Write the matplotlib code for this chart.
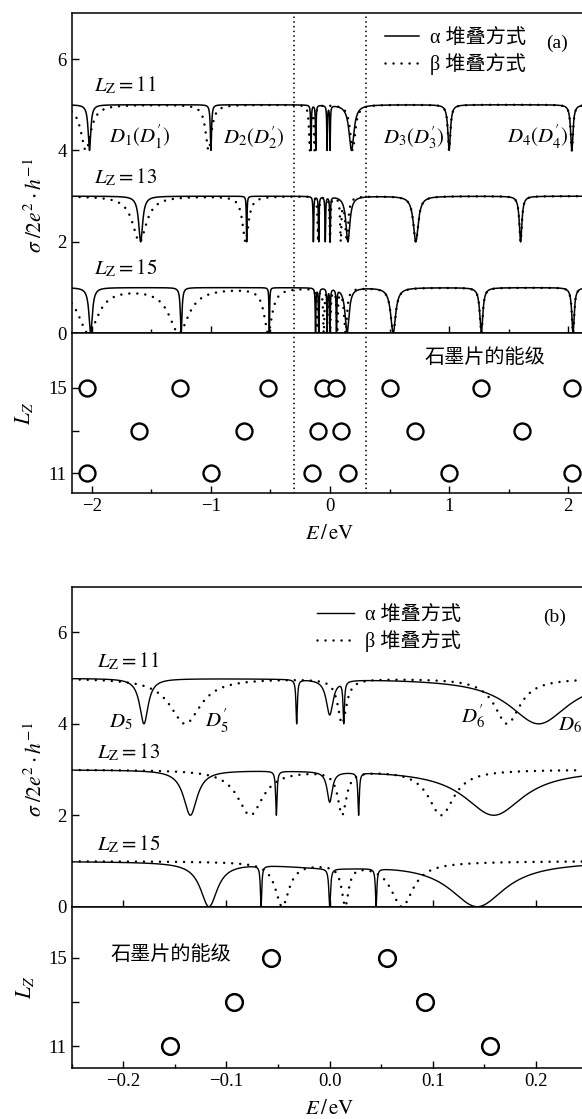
import numpy as np
import matplotlib
matplotlib.use('Agg')
import matplotlib.pyplot as plt
from matplotlib.ticker import MultipleLocator

plt.rcParams['font.family'] = ['Liberation Serif', 'Noto Sans CJK SC']
plt.rcParams['mathtext.fontset'] = 'stix'
plt.rcParams['axes.linewidth'] = 1.1

# ---------------- panel (a): dip centres (eV) and half widths
A11_ALPHA_POS = [-2.02, -1.00, -0.16, -0.12, -0.025, 0.0, 0.18, 1.00, 2.03]
A11_ALPHA_WID = [0.013, 0.006, 0.003, 0.003, 0.003, 0.003, 0.025, 0.013, 0.012]
A11_BETA_POS = [-2.05, -1.02, -0.17, -0.13, 0.19, 1.00, 2.03]
A11_BETA_WID = [0.05, 0.03, 0.008, 0.006, 0.025, 0.013, 0.012]

A13_ALPHA_POS = [-1.59, -0.70, -0.14, -0.095, -0.04, 0.0, 0.15, 0.72, 1.60]
A13_ALPHA_WID = [0.02, 0.003, 0.003, 0.003, 0.003, 0.003, 0.02, 0.025, 0.013]
A13_BETA_POS = [-1.60, -0.71, -0.10, 0.0, 0.09, 0.14, 0.72, 1.60]
A13_BETA_WID = [0.07, 0.03, 0.006, 0.005, 0.006, 0.015, 0.025, 0.013]

A15_ALPHA_POS = [-2.01, -1.25, -0.51, -0.122, -0.095, -0.024, 0.0, 0.054, 0.143, 0.53, 1.27, 2.04]
A15_ALPHA_WID = [0.017, 0.008, 0.003, 0.003, 0.003, 0.003, 0.003, 0.003, 0.02, 0.025, 0.015, 0.012]
A15_BETA_POS = [-2.03, -1.27, -0.52, -0.108, -0.053, 0.0, 0.06, 0.13, 0.53, 1.27, 2.04]
A15_BETA_WID = [0.1, 0.1, 0.04, 0.006, 0.006, 0.006, 0.006, 0.015, 0.025, 0.015, 0.012]

LEVELS_A_11 = [-2.04, -1.00, -0.15, 0.15, 1.00, 2.03]
LEVELS_A_13 = [-1.60, -0.72, -0.10, 0.09, 0.71, 1.61]
LEVELS_A_15 = [-2.04, -1.26, -0.52, -0.06, 0.05, 0.50, 1.27, 2.03]

# ---------------- panel (b): centres, half widths, depths
B11_ALPHA_POS = [-0.180, -0.032, 0.0, 0.0136, 0.2025]
B11_ALPHA_WID = [0.005, 0.0008, 0.004, 0.0008, 0.035]
B11_ALPHA_DEP = [1, 1, 0.8, 1, 1]
B11_BETA_POS = [-0.140, 0.012, 0.172]
B11_BETA_WID = [0.018, 0.005, 0.015]
B11_BETA_DEP = [1, 1, 1]

B13_ALPHA_POS = [-0.135, -0.0517, 0.0, 0.028, 0.159]
B13_ALPHA_WID = [0.008, 0.0008, 0.003, 0.0008, 0.035]
B13_ALPHA_DEP = [1, 1, 0.7, 1, 1]
B13_BETA_POS = [-0.077, 0.012, 0.108]
B13_BETA_WID = [0.015, 0.005, 0.015]
B13_BETA_DEP = [1, 1, 1]

B15_ALPHA_POS = [-0.117, -0.0665, 0.0, 0.045, 0.143, 0.0]
B15_ALPHA_WID = [0.01, 0.0008, 0.001, 0.0008, 0.033, 0.06]
B15_ALPHA_DEP = [1, 1, 1, 1, 1, 0.12]
B15_BETA_POS = [-0.046, 0.015, 0.070, 0.02]
B15_BETA_WID = [0.008, 0.004, 0.013, 0.08]
B15_BETA_DEP = [1, 1, 1, 0.05]

LEVELS_B_11 = [-0.155, 0.155]
LEVELS_B_13 = [-0.093, 0.092]
LEVELS_B_15 = [-0.057, 0.056]

OFFSETS = {11: 4, 13: 2, 15: 0}
LEGEND_LABELS = ['α 堆叠方式', 'β 堆叠方式']


def conductance(E, pos, wid, dep=None, offset=0.0):
    # product of antiresonance factors, one per dip
    if dep is None:
        dep = [1] * len(pos)
    s = np.ones_like(E)
    for p, w, d in zip(pos, wid, dep):
        s *= 1 - d * w**2 / ((E - p)**2 + w**2)
    return offset + s


def style_axes(ax):
    ax.tick_params(which='both', direction='in', width=1.0, labelsize=13.5)
    ax.tick_params(which='major', length=5)
    ax.tick_params(which='minor', length=3)


W, H = 582, 1119
fig = plt.figure(figsize=(W / 100, H / 100), dpi=100)


def px_axes(left, top, right, bottom):
    return fig.add_axes([left / W, 1 - bottom / H, (right - left) / W, (bottom - top) / H])


dot = (0, (0.01, 3.2))
vdot = (0, (0.01, 2.6))
ylab = r'$\sigma\;/2e^2\cdot h^{-1}$'

# ======================= panel (a)
E_a = np.linspace(-2.17, 2.17, 30001)
ax_a = px_axes(71.6, 13.3, 588.5, 333.3)
ax_al = px_axes(71.6, 333.3, 588.5, 493.3)

curves_a = [
    (11, A11_ALPHA_POS, A11_ALPHA_WID, A11_BETA_POS, A11_BETA_WID),
    (13, A13_ALPHA_POS, A13_ALPHA_WID, A13_BETA_POS, A13_BETA_WID),
    (15, A15_ALPHA_POS, A15_ALPHA_WID, A15_BETA_POS, A15_BETA_WID),
]
for lz, ap, aw, bp, bw in curves_a:
    off = OFFSETS[lz]
    la, = ax_a.plot(E_a, conductance(E_a, ap, aw, offset=off), color='black', lw=1.1)
    lb, = ax_a.plot(E_a, conductance(E_a, bp, bw, offset=off), color='black', lw=1.8,
                    linestyle=dot, dash_capstyle='round')
    ax_a.text(-1.98, off + 1.42, r'$L_{\rm Z}=%d$' % lz, fontsize=15, va='center', ha='left')

ax_a.set_xlim(-2.17, 2.17)
ax_a.set_ylim(0, 7)
ax_a.set_yticks([0, 2, 4, 6])
ax_a.xaxis.set_major_locator(MultipleLocator(1))
ax_a.xaxis.set_minor_locator(MultipleLocator(0.5))
ax_a.tick_params(axis='x', labelbottom=False)
style_axes(ax_a)
ax_a.set_ylabel(ylab, fontsize=15.5)
ax_a.yaxis.set_label_coords(-0.047, 0.40)

for txt, x in [(r"$D_1(D_1')$", -1.60), (r"$D_2(D_2')$", -0.64),
               (r"$D_3(D_3')$", 0.70), (r"$D_4(D_4')$", 1.74)]:
    ax_a.text(x, 4.29, txt, fontsize=15, ha='center', va='center')

ax_a.legend([la, lb], LEGEND_LABELS, loc='upper left',
            bbox_to_anchor=(0.606, 0.95), frameon=False, fontsize=14.5,
            handlelength=1.7, handletextpad=0.55, labelspacing=0.25,
            borderpad=0, borderaxespad=0)
ax_a.text((557 - 71.6) / 517, (333.3 - 43.3) / 320, '(a)', fontsize=14,
          ha='center', va='center', transform=ax_a.transAxes)

for ax in (ax_a, ax_al):
    ax.axvline(-0.3, color='black', lw=1.3, linestyle=vdot, dash_capstyle='round')
    ax.axvline(0.3, color='black', lw=1.3, linestyle=vdot, dash_capstyle='round')

for lz, lv in [(11, LEVELS_A_11), (13, LEVELS_A_13), (15, LEVELS_A_15)]:
    ax_al.plot(lv, [lz] * len(lv), 'o', ms=11.5, mfc='white', mec='black', mew=1.7)

ax_al.set_xlim(-2.17, 2.17)
ax_al.set_ylim(10.06, 17.56)
ax_al.set_yticks([11, 13, 15])
ax_al.set_yticklabels(['11', '', '15'])
ax_al.xaxis.set_major_locator(MultipleLocator(1))
ax_al.xaxis.set_minor_locator(MultipleLocator(0.5))
style_axes(ax_al)
ax_al.set_ylabel(r'$L_Z$', fontsize=15.5)
ax_al.yaxis.set_label_coords(-0.07, 0.5)
ax_al.set_xlabel(r'$E\,/\,\mathrm{eV}$', fontsize=15, labelpad=7)
ax_al.text(1.30, 16.39, '石墨片的能级', fontsize=14.5, ha='center', va='center')

# ======================= panel (b)
E_b = np.linspace(-0.25, 0.25, 40001)
ax_b = px_axes(71.7, 586.7, 587.7, 906.7)
ax_bl = px_axes(71.7, 906.7, 587.7, 1068.3)

curves_b = [
    (11, B11_ALPHA_POS, B11_ALPHA_WID, B11_ALPHA_DEP, B11_BETA_POS, B11_BETA_WID, B11_BETA_DEP),
    (13, B13_ALPHA_POS, B13_ALPHA_WID, B13_ALPHA_DEP, B13_BETA_POS, B13_BETA_WID, B13_BETA_DEP),
    (15, B15_ALPHA_POS, B15_ALPHA_WID, B15_ALPHA_DEP, B15_BETA_POS, B15_BETA_WID, B15_BETA_DEP),
]
for lz, ap, aw, ad, bp, bw, bd in curves_b:
    off = OFFSETS[lz]
    la, = ax_b.plot(E_b, conductance(E_b, ap, aw, ad, offset=off), color='black', lw=1.0)
    lb, = ax_b.plot(E_b, conductance(E_b, bp, bw, bd, offset=off), color='black', lw=1.8,
                    linestyle=dot, dash_capstyle='round')
    ax_b.text(-0.2254, off + 1.37, r'$L_{\rm Z}=%d$' % lz, fontsize=15, va='center', ha='left')

ax_b.set_xlim(-0.25, 0.25)
ax_b.set_ylim(0, 7)
ax_b.set_yticks([0, 2, 4, 6])
ax_b.xaxis.set_major_locator(MultipleLocator(0.1))
ax_b.tick_params(axis='x', labelbottom=False)
style_axes(ax_b)
ax_b.set_ylabel(ylab, fontsize=15.5)
ax_b.yaxis.set_label_coords(-0.047, 0.43)

for txt, x, y in [(r'$D_5$', -0.202, 4.02), (r"$D_5'$", -0.109, 4.05),
                  (r"$D_6'$", 0.139, 4.15), (r'$D_6$', 0.233, 3.97)]:
    ax_b.text(x, y, txt, fontsize=15, ha='center', va='center')

ax_b.legend([la, lb], LEGEND_LABELS, loc='upper left',
            bbox_to_anchor=(0.476, 0.94), frameon=False, fontsize=14.5,
            handlelength=1.8, handletextpad=0.55, labelspacing=0.25,
            borderpad=0, borderaxespad=0)
ax_b.text((555 - 71.7) / 516, (906.7 - 617) / 320, '(b)', fontsize=14,
          ha='center', va='center', transform=ax_b.transAxes)

for lz, lv in [(11, LEVELS_B_11), (13, LEVELS_B_13), (15, LEVELS_B_15)]:
    ax_bl.plot(lv, [lz] * len(lv), 'o', ms=12, mfc='white', mec='black', mew=1.8)

ax_bl.set_xlim(-0.25, 0.25)
ax_bl.set_ylim(10.01, 17.3)
ax_bl.set_yticks([11, 13, 15])
ax_bl.set_yticklabels(['11', '', '15'])
ax_bl.xaxis.set_major_locator(MultipleLocator(0.1))
ax_bl.xaxis.set_minor_locator(MultipleLocator(0.05))
style_axes(ax_bl)
ax_bl.set_ylabel(r'$L_Z$', fontsize=15.5)
ax_bl.yaxis.set_label_coords(-0.07, 0.5)
ax_bl.set_xlabel(r'$E\,/\,\mathrm{eV}$', fontsize=15, labelpad=7)
ax_bl.text(-0.154, 15.1, '石墨片的能级', fontsize=14.5, ha='center', va='center')

fig.savefig('out.png', dpi=100)
